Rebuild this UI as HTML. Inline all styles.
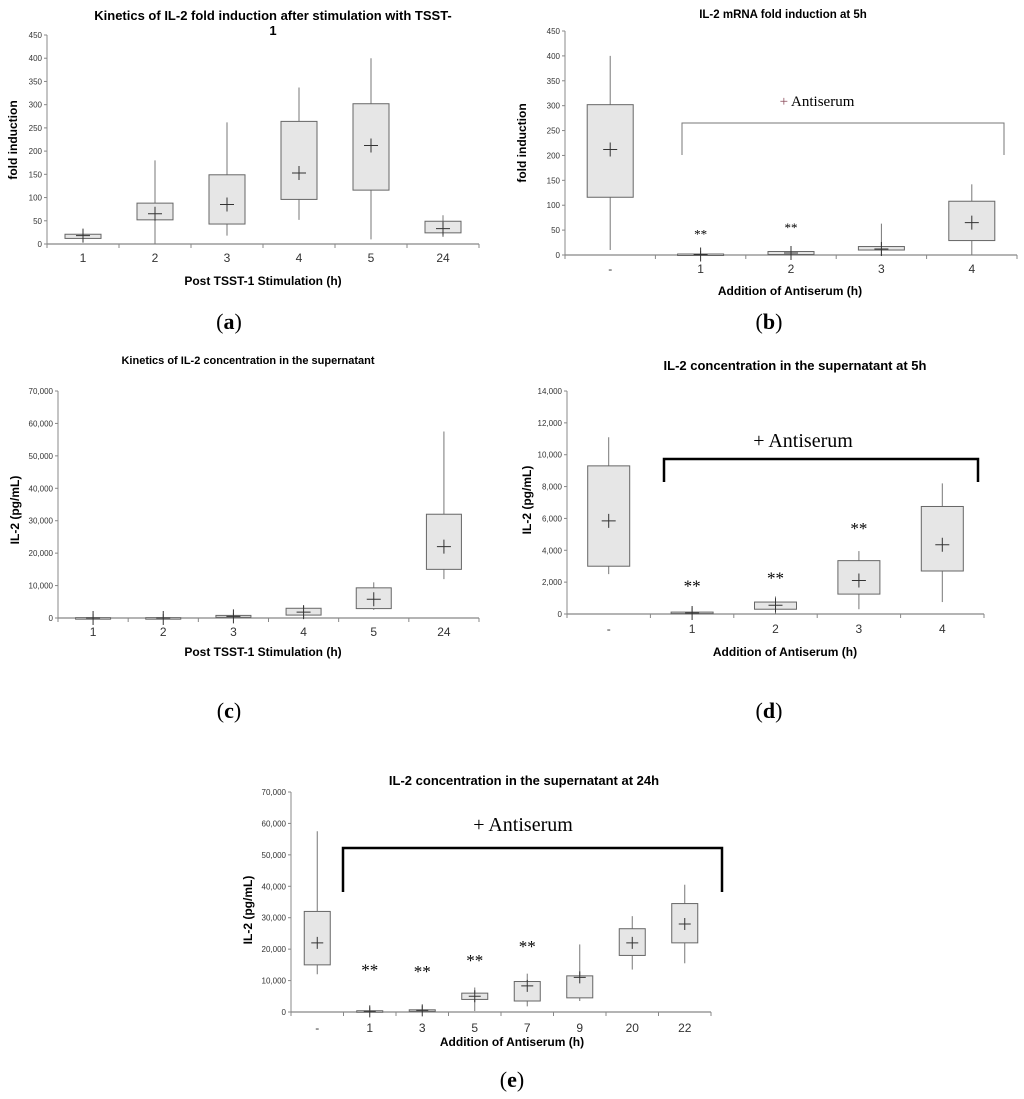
<!DOCTYPE html>
<html><head><meta charset="utf-8">
<style>
html,body{margin:0;padding:0;background:#fff;}
svg{display:block;}
.t{font-family:"Liberation Sans",Arial,sans-serif;font-weight:bold;fill:#000;}
.tk{font-family:"Liberation Sans",Arial,sans-serif;fill:#333;}
.sr{font-family:"Liberation Serif","Times New Roman",serif;fill:#000;}
</style></head>
<body>
<svg id="fig" width="1024" height="1099" viewBox="0 0 1024 1099" xmlns="http://www.w3.org/2000/svg">
<text class="t" x="273" y="20" font-size="13" text-anchor="middle">Kinetics of IL-2 fold induction after stimulation with TSST-</text>
<text class="t" x="273" y="35" font-size="13" text-anchor="middle">1</text>
<text class="t" x="783" y="18" font-size="11.5" text-anchor="middle">IL-2 mRNA fold induction at 5h</text>
<text class="t" x="248" y="364" font-size="11" text-anchor="middle">Kinetics of IL-2 concentration in the supernatant</text>
<text class="t" x="795" y="370" font-size="13" text-anchor="middle">IL-2 concentration in the supernatant at 5h</text>
<text class="t" x="524" y="785" font-size="13" text-anchor="middle">IL-2 concentration in the supernatant at 24h</text>

<text class="t" x="263" y="285" font-size="12" text-anchor="middle">Post TSST-1 Stimulation (h)</text>
<text class="t" x="790" y="295" font-size="12" text-anchor="middle">Addition of Antiserum (h)</text>
<text class="t" x="263" y="656" font-size="12" text-anchor="middle">Post TSST-1 Stimulation (h)</text>
<text class="t" x="785" y="656" font-size="12" text-anchor="middle">Addition of Antiserum (h)</text>
<text class="t" x="512" y="1046" font-size="12" text-anchor="middle">Addition of Antiserum (h)</text>

<text class="t" font-size="12" text-anchor="middle" transform="translate(17,140) rotate(-90)">fold induction</text>
<text class="t" font-size="12" text-anchor="middle" transform="translate(526,143) rotate(-90)">fold induction</text>
<text class="t" font-size="12" text-anchor="middle" transform="translate(19,510) rotate(-90)">IL-2 (pg/mL)</text>
<text class="t" font-size="12" text-anchor="middle" transform="translate(531,500) rotate(-90)">IL-2 (pg/mL)</text>
<text class="t" font-size="12" text-anchor="middle" transform="translate(252,910) rotate(-90)">IL-2 (pg/mL)</text>

<text class="sr" x="229" y="329" font-size="22" text-anchor="middle">(<tspan font-weight="bold">a</tspan>)</text>
<text class="sr" x="769" y="329" font-size="22" text-anchor="middle">(<tspan font-weight="bold">b</tspan>)</text>
<text class="sr" x="229" y="718" font-size="22" text-anchor="middle">(<tspan font-weight="bold">c</tspan>)</text>
<text class="sr" x="769" y="718" font-size="22" text-anchor="middle">(<tspan font-weight="bold">d</tspan>)</text>
<text class="sr" x="512" y="1087" font-size="22" text-anchor="middle">(<tspan font-weight="bold">e</tspan>)</text>

<path d="M682,155 V123 H1004 V155" fill="none" stroke="#777" stroke-width="1"/>
<text class="sr" x="817" y="106" font-size="15" text-anchor="middle"><tspan fill="#8a4a5a">+</tspan> Antiserum</text>
<path d="M664,482 V459 H978 V482" fill="none" stroke="#000" stroke-width="2.5"/>
<text class="sr" x="803" y="447" font-size="20" text-anchor="middle">+ Antiserum</text>
<path d="M343,892 V848 H722 V892" fill="none" stroke="#000" stroke-width="2.5"/>
<text class="sr" x="523" y="831" font-size="20" text-anchor="middle">+ Antiserum</text>
</svg>
<script>
// Panel a
const catsA=["1","2","3","4","5","24"];
const minA=[8,0,18,52,10,15];
const q1A=[12,52,43,96,116,24];
const q3A=[21,88,149,264,302,49];
const maxA=[27,180,262,337,400,62];
const meanA=[18,65,85,153,212,33];
const ticksA=[0,50,100,150,200,250,300,350,400,450];
const tickLabA=["0","50","100","150","200","250","300","350","400","450"];
const starsA=[];
// Panel b
const catsB=["-","1","2","3","4"];
const minB=[10,0,0,0,0];
const q1B=[116,0,1,10,29];
const q3B=[302,2,7,17,108];
const maxB=[400,8,15,63,142];
const meanB=[212,1,4,12,65];
const ticksB=[0,50,100,150,200,250,300,350,400,450];
const tickLabB=["0","50","100","150","200","250","300","350","400","450"];
const starsB=[null,45,58,null,null];
// Panel c
const catsC=["1","2","3","4","5","24"];
const minC=[-200,-200,0,200,2500,12000];
const q1C=[0,0,200,900,2900,15000];
const q3C=[100,100,800,3000,9300,32000];
const maxC=[1200,1200,1500,3700,11000,57500];
const meanC=[0,0,500,1800,5800,22000];
const ticksC=[0,10000,20000,30000,40000,50000,60000,70000];
const tickLabC=["0","10,000","20,000","30,000","40,000","50,000","60,000","70,000"];
const starsC=[];
// Panel d
const catsD=["-","1","2","3","4"];
const minD=[2500,0,0,300,750];
const q1D=[3000,50,300,1250,2700];
const q3D=[9300,120,750,3350,6750];
const maxD=[11100,400,1100,3950,8200];
const meanD=[5850,60,550,2100,4350];
const ticksD=[0,2000,4000,6000,8000,10000,12000,14000];
const tickLabD=["0","2,000","4,000","6,000","8,000","10,000","12,000","14,000"];
const starsD=[null,1800,2300,5400,null];
// Panel e
const catsE=["-","1","3","5","7","9","20","22"];
const minE=[12000,0,0,300,1800,3500,13500,15500];
const q1E=[15000,0,200,4000,3500,4500,18000,22000];
const q3E=[32000,400,700,6000,9700,11500,26500,34500];
const maxE=[57500,1500,2000,7800,12200,21500,30500,40500];
const meanE=[22000,200,500,5000,8300,11000,22000,28000];
const ticksE=[0,10000,20000,30000,40000,50000,60000,70000];
const tickLabE=["0","10,000","20,000","30,000","40,000","50,000","60,000","70,000"];
const starsE=[null,13500,13000,16500,21000,null,null,null];

const NS="http://www.w3.org/2000/svg";
const svg=document.getElementById('fig');
function mk(tag,attrs){const e=document.createElementNS(NS,tag);for(const k in attrs)e.setAttribute(k,attrs[k]);svg.appendChild(e);return e;}

function panel(id,cfg,cats,mn,q1,q3,mx,mean,ticks,tickLab,stars){
  const yS=v=>cfg.y0-(v-ticks[0])/(ticks[ticks.length-1]-ticks[0])*(cfg.y0-cfg.yTop);
  const bw=(cfg.x1-cfg.x0)/cats.length;
  const xS=i=>cfg.x0+bw*(i+0.5);
  let e=mk('line',{x1:cfg.x0,y1:cfg.yTop,x2:cfg.x0,y2:cfg.y0,stroke:'#888','stroke-width':1});
  
  
  e=mk('line',{x1:cfg.x0,y1:cfg.y0,x2:cfg.x1,y2:cfg.y0,stroke:'#888','stroke-width':1.2});
  
  
  ticks.forEach((t,i)=>{
    const y=yS(t);
    let l=mk('line',{x1:cfg.x0-3,y1:y,x2:cfg.x0,y2:y,stroke:'#888'});
    
    
    let tx=mk('text',{x:cfg.x0-5,y:y+3,'font-size':cfg.tf,'text-anchor':'end',class:'tk'});
    tx.textContent=tickLab[i];
    
    
  });
  for(let i=0;i<=cats.length;i++){
    const x=cfg.x0+bw*i;
    let l=mk('line',{x1:x,y1:cfg.y0,x2:x,y2:cfg.y0+4,stroke:'#888'});
    
    
  }
  cats.forEach((c,i)=>{
    const x=xS(i);
    let tx=mk('text',{x:x,y:cfg.y0+cfg.lo,'font-size':cfg.xf,'text-anchor':'middle',class:'tk',fill:'#000'});
    tx.textContent=c;
    
    
    let w=mk('line',{x1:x,y1:yS(mx[i]),x2:x,y2:yS(mn[i]),stroke:'#777','stroke-width':1});
    
    
    const top=yS(q3[i]),bot=yS(q1[i]);
    let r=mk('rect',{x:x-cfg.bx/2,y:top,width:cfg.bx,height:Math.max(1.5,bot-top),fill:'#e6e6e6',stroke:'#666','stroke-width':1});
    
    
    const my=yS(mean[i]),h=cfg.cr;
    let m=mk('path',{d:`M${x-h},${my}H${x+h}M${x},${my-h}V${my+h}`,stroke:'#333','stroke-width':1,fill:'none'});
    
    
    if(stars[i]!=null){
      let s=mk('text',{x:x,y:yS(stars[i])+6,'font-size':cfg.sf,'text-anchor':'middle',class:'sr',fill:cfg.sc});
      s.textContent='**';
      
      
    }
  });
}
panel('a',{x0:47,x1:479,y0:244,yTop:35,tf:8,xf:12,lo:18,bx:36,cr:7,sf:14,sc:'#000'},catsA,minA,q1A,q3A,maxA,meanA,ticksA,tickLabA,starsA);
panel('b',{x0:565,x1:1017,y0:255,yTop:31,tf:8,xf:12,lo:18,bx:46,cr:7,sf:13,sc:'#8a6a6a'},catsB,minB,q1B,q3B,maxB,meanB,ticksB,tickLabB,starsB);
panel('c',{x0:58,x1:479,y0:618,yTop:391,tf:8,xf:12,lo:18,bx:35,cr:7,sf:14,sc:'#000'},catsC,minC,q1C,q3C,maxC,meanC,ticksC,tickLabC,starsC);
panel('d',{x0:567,x1:984,y0:614,yTop:391,tf:8,xf:12,lo:19,bx:42,cr:7,sf:17,sc:'#000'},catsD,minD,q1D,q3D,maxD,meanD,ticksD,tickLabD,starsD);
panel('e',{x0:291,x1:711,y0:1012,yTop:792,tf:8,xf:12,lo:20,bx:26,cr:6,sf:17,sc:'#000'},catsE,minE,q1E,q3E,maxE,meanE,ticksE,tickLabE,starsE);
</script>
</body></html>
